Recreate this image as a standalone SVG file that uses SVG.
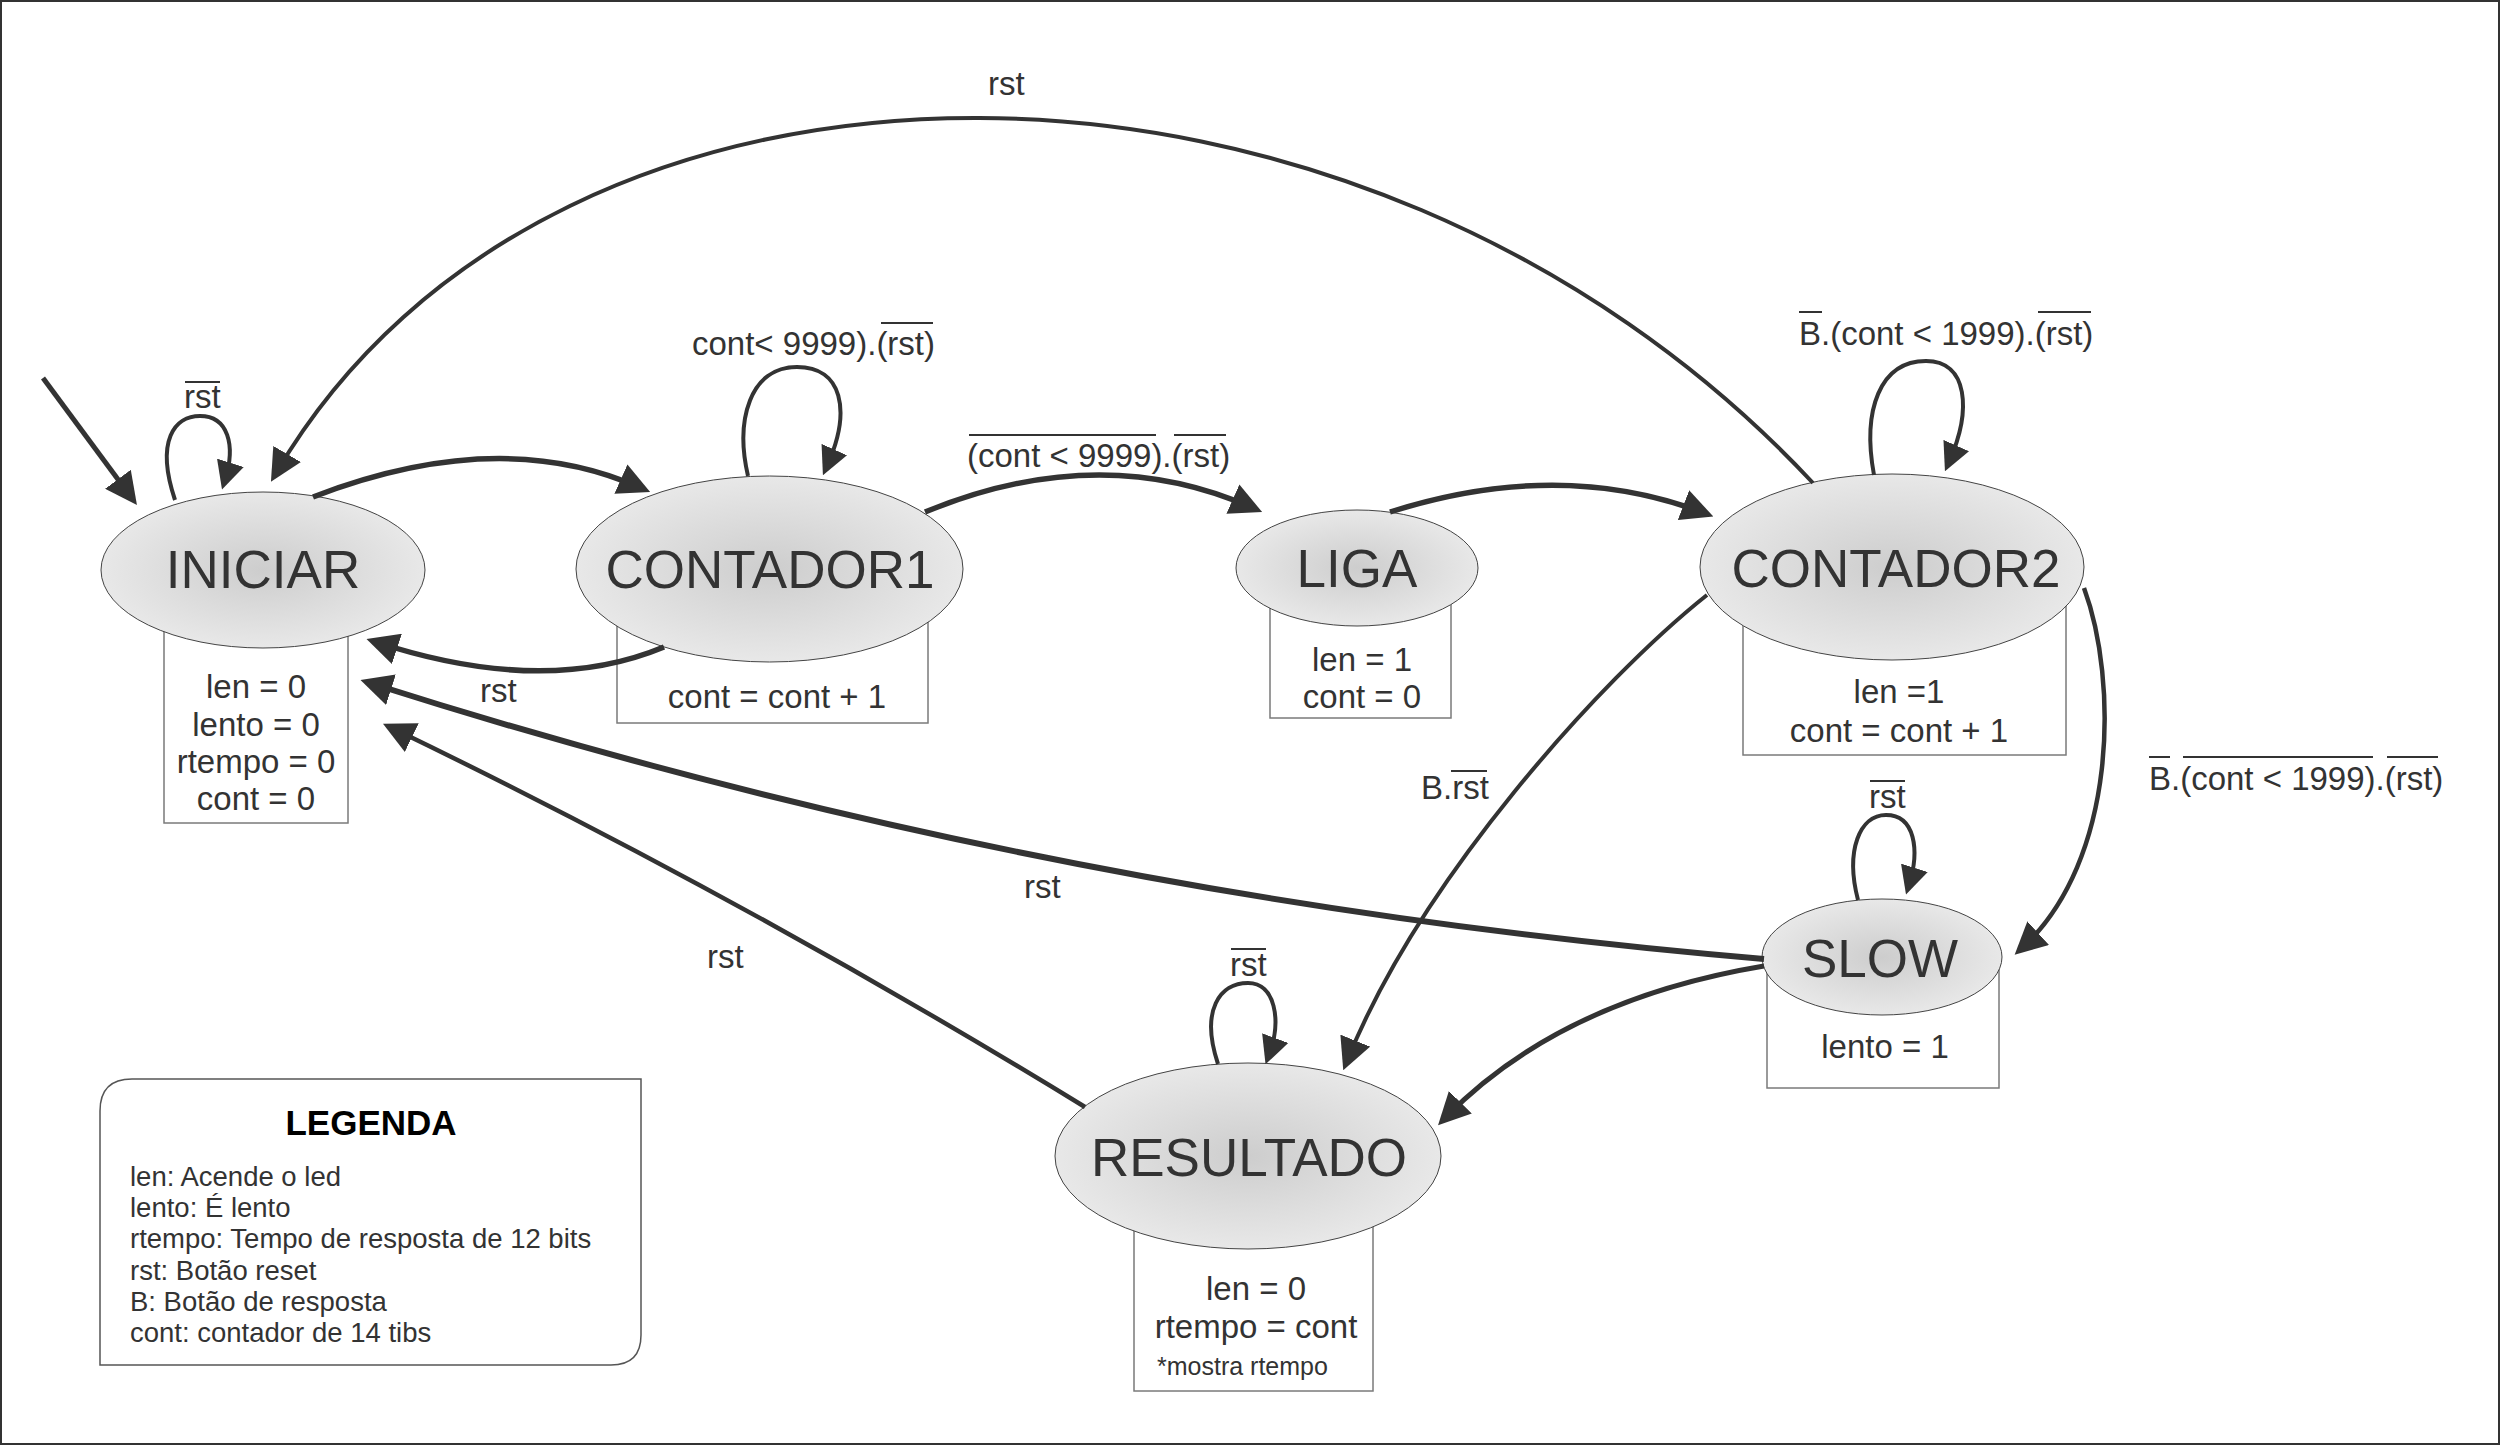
<svg xmlns="http://www.w3.org/2000/svg" width="2500" height="1445" viewBox="0 0 2500 1445">
<style>
.t{font-family:"Liberation Sans",Arial,sans-serif;fill:#333}
.title{font-size:53px;text-anchor:middle}
.bx{font-size:33px;text-anchor:middle}
.lb{font-size:33px}
.lg{font-size:27.5px}
.box{fill:#fff;stroke:#7a7a7a;stroke-width:1.5}
.ell{fill:url(#grad);stroke:#444;stroke-width:1}
.e{fill:none;stroke:#333;stroke-width:5;marker-end:url(#ah)}
.lp{fill:none;stroke:#333;stroke-width:4;marker-end:url(#ahs)}
.ov{stroke:#333;stroke-width:2}
</style>
<defs>
<radialGradient id="grad" cx="50%" cy="50%" r="50%">
<stop offset="0" stop-color="#cdcdcd"/>
<stop offset="1" stop-color="#e8e8e8"/>
</radialGradient>
<marker id="ah" markerUnits="userSpaceOnUse" viewBox="0 0 32 32" markerWidth="32" markerHeight="32" refX="22" refY="16" orient="auto">
<path d="M0,0 L32,16 L0,32 z" fill="#333"/>
</marker>
<marker id="ahs" markerUnits="userSpaceOnUse" viewBox="0 0 28 28" markerWidth="28" markerHeight="28" refX="18" refY="14" orient="auto">
<path d="M0,0 L28,14 L0,28 z" fill="#333"/>
</marker>
</defs>
<rect x="0" y="0" width="2500" height="1445" fill="#fff"/>
<rect x="1" y="1" width="2498" height="1443" fill="none" stroke="#333" stroke-width="2"/>

<g id="node-iniciar">
<rect class="box" x="164" y="600" width="184" height="223"/>
<ellipse class="ell" cx="263" cy="570" rx="162" ry="78"/>
<text class="t title" x="263" y="588">INICIAR</text>
<text class="t bx" x="256" y="698">len = 0</text>
<text class="t bx" x="256" y="736">lento = 0</text>
<text class="t bx" x="256" y="773">rtempo = 0</text>
<text class="t bx" x="256" y="810">cont = 0</text>
</g>

<g id="node-contador1">
<rect class="box" x="617" y="600" width="311" height="123"/>
<ellipse class="ell" cx="769.5" cy="569" rx="193.5" ry="93"/>
<text class="t title" x="770" y="588">CONTADOR1</text>
<text class="t bx" x="777" y="708">cont = cont + 1</text>
</g>

<g id="node-liga">
<rect class="box" x="1270" y="590" width="181" height="128"/>
<ellipse class="ell" cx="1357" cy="568" rx="121" ry="58"/>
<text class="t title" x="1357" y="587">LIGA</text>
<text class="t bx" x="1362" y="671">len = 1</text>
<text class="t bx" x="1362" y="708">cont = 0</text>
</g>

<g id="node-contador2">
<rect class="box" x="1743" y="600" width="323" height="155"/>
<ellipse class="ell" cx="1892" cy="567" rx="192" ry="93"/>
<text class="t title" x="1896" y="587">CONTADOR2</text>
<text class="t bx" x="1899" y="703">len =1</text>
<text class="t bx" x="1899" y="742">cont = cont + 1</text>
</g>

<g id="node-slow">
<rect class="box" x="1767" y="955" width="232" height="133"/>
<ellipse class="ell" cx="1882" cy="957" rx="120" ry="58"/>
<text class="t title" x="1880" y="977">SLOW</text>
<text class="t bx" x="1885" y="1058">lento = 1</text>
</g>

<g id="node-resultado">
<rect class="box" x="1134" y="1180" width="239" height="211"/>
<ellipse class="ell" cx="1248" cy="1156" rx="193" ry="93"/>
<text class="t title" x="1249" y="1176">RESULTADO</text>
<text class="t bx" x="1256" y="1300">len = 0</text>
<text class="t bx" x="1256" y="1338">rtempo = cont</text>
<text class="t" style="font-size:25px" x="1157" y="1375">*mostra rtempo</text>
</g>

<g id="connectors">
<path class="e" d="M43,378 L131,497"/>
<path class="e" style="stroke-width:4" d="M1813,483 C1361,-2 554,-2 276,473"/>
<path class="e" style="stroke-width:5.5" d="M313,497 Q500,425 641,488"/>
<path class="e" style="stroke-width:5.5" d="M664,647 Q544,697 376,642"/>
<path class="e" style="stroke-width:5.5" d="M925,512 Q1100,440 1253,508"/>
<path class="e" style="stroke-width:5.5" d="M1390,512 Q1560,458 1704,513"/>
<path class="e" style="stroke-width:4" d="M1707,595 C1600,680 1420,880 1347,1061"/>
<path class="e" style="stroke-width:4.5" d="M2084,588 C2118,680 2118,860 2022,948"/>
<path class="e" style="stroke-width:6" d="M1764,959 C1289,919 825,828 370,683"/>
<path class="e" style="stroke-width:5" d="M1764,966 Q1560,1000 1445,1118"/>
<path class="e" style="stroke-width:4.5" d="M1085,1107 Q742,897 392,728"/>
<path class="lp" d="M175,500 C155,440 175,416 200,416 C228,416 236,445 225,480"/>
<path class="lp" d="M748,476 C735,420 750,367 797,367 C842,367 852,410 827,466"/>
<path class="lp" d="M1874,475 C1862,410 1880,361 1926,361 C1968,361 1972,410 1949,462"/>
<path class="lp" d="M1858,900 C1845,850 1860,815 1886,815 C1915,815 1920,850 1909,885"/>
<path class="lp" d="M1218,1064 C1200,1010 1220,983 1248,983 C1275,983 1282,1020 1269,1055"/>
</g>

<g id="edge-labels">
<text class="t lb" x="988" y="95">rst</text>
<text class="t lb" x="184" y="408">rst</text>
<line class="ov" x1="185" y1="382" x2="220" y2="382"/>
<text class="t lb" x="692" y="355">cont&lt; 9999).(rst)</text>
<line class="ov" x1="881" y1="323" x2="933" y2="323"/>
<text class="t lb" x="967" y="467">(cont &lt; 9999).(rst)</text>
<line class="ov" x1="969" y1="435" x2="1156" y2="435"/>
<line class="ov" x1="1174" y1="435" x2="1226" y2="435"/>
<text class="t lb" x="1799" y="345">B.(cont &lt; 1999).(rst)</text>
<line class="ov" x1="1799" y1="312" x2="1822" y2="312"/>
<line class="ov" x1="2038" y1="312" x2="2091" y2="312"/>
<text class="t lb" x="2149" y="790">B.(cont &lt; 1999).(rst)</text>
<line class="ov" x1="2149" y1="757" x2="2170" y2="757"/>
<line class="ov" x1="2183" y1="757" x2="2373" y2="757"/>
<line class="ov" x1="2387" y1="757" x2="2438" y2="757"/>
<text class="t lb" x="1421" y="799">B.rst</text>
<line class="ov" x1="1451" y1="771" x2="1487" y2="771"/>
<text class="t lb" x="1869" y="808">rst</text>
<line class="ov" x1="1870" y1="781" x2="1905" y2="781"/>
<text class="t lb" x="1230" y="976">rst</text>
<line class="ov" x1="1231" y1="949" x2="1266" y2="949"/>
<text class="t lb" x="480" y="702">rst</text>
<text class="t lb" x="1024" y="898">rst</text>
<text class="t lb" x="707" y="968">rst</text>
</g>

<g id="legend">
<path d="M132,1079 L641,1079 L641,1335 Q641,1365 611,1365 L100,1365 L100,1111 Q100,1079 132,1079 z" fill="#fff" stroke="#555" stroke-width="1.5"/>
<text x="371" y="1135" style="font-family:'Liberation Sans',Arial,sans-serif;font-size:35px;font-weight:bold;text-anchor:middle;fill:#000">LEGENDA</text>
<text class="t lg" x="130" y="1186">len: Acende o led</text>
<text class="t lg" x="130" y="1217">lento: É lento</text>
<text class="t lg" x="130" y="1248">rtempo: Tempo de resposta de 12 bits</text>
<text class="t lg" x="130" y="1280">rst: Botão reset</text>
<text class="t lg" x="130" y="1311">B: Botão de resposta</text>
<text class="t lg" x="130" y="1342">cont: contador de 14 tibs</text>
</g>
</svg>
